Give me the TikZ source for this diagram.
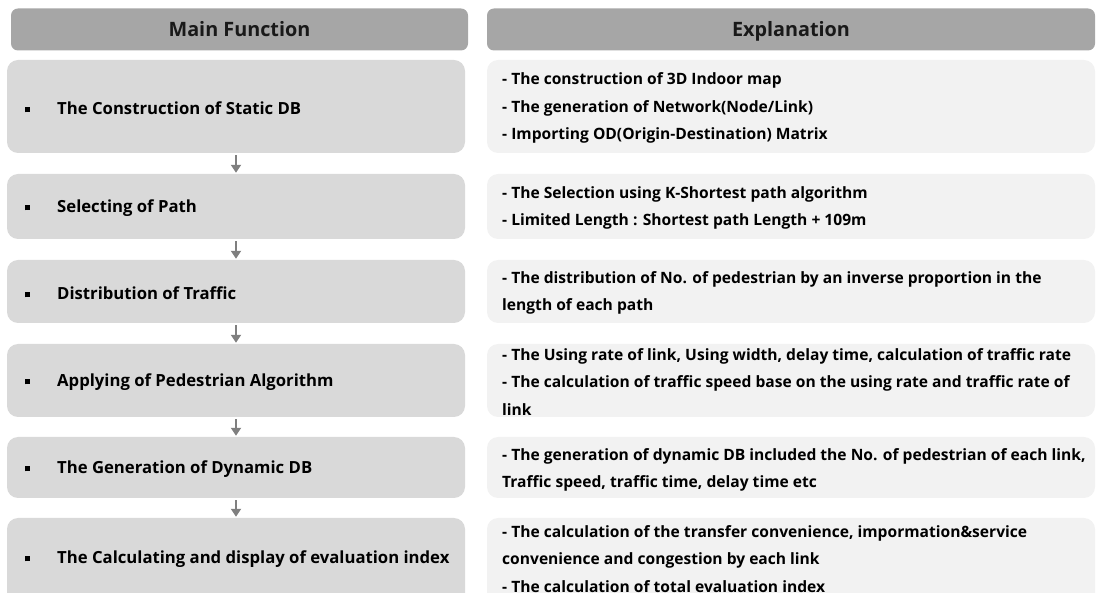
\documentclass[tikz,border=0pt]{standalone}
\usepackage{fontspec}
\setmainfont{Open Sans}
\usetikzlibrary{arrows.meta,calc}
\definecolor{hdr}{HTML}{A6A6A6}
\definecolor{lbox}{HTML}{D9D9D9}
\definecolor{rbox}{HTML}{F2F2F2}
\definecolor{arr}{HTML}{7F7F7F}
\tikzset{
  hdrbox/.style={fill=hdr, rounded corners=7pt, minimum height=42pt, inner sep=0pt,
    text height=14.5pt, text depth=0pt,
    font=\fontsize{19.8}{22}\selectfont\bfseries, text=black!90},
  leftbox/.style={fill=lbox, rounded corners=11pt, minimum width=458pt, inner sep=0pt},
  rightbox/.style={fill=rbox, rounded corners=11pt, minimum width=608pt, inner sep=0pt},
  lefttext/.style={anchor=west, inner sep=0pt, font=\fontsize{16.7}{19}\selectfont\bfseries},
  righttext/.style={anchor=west, inner sep=0pt, align=left, font=\fontsize{15.6}{27.5}\selectfont\bfseries},
  flow/.style={draw=arr, line width=2.8pt, -{Triangle[length=8pt,width=10pt]}, shorten <=2pt, shorten >=1pt}
}
\newcommand{\blt}{\makebox[32pt][l]{\rule[2pt]{5pt}{5pt}}}
\begin{document}
\begin{tikzpicture}[x=1pt,y=-1pt]
\useasboundingbox (0,0) rectangle (1096,593);
\clip (0,0) rectangle (1096,593);
% headers
\node[hdrbox, minimum width=457pt] (h1) at (239.5,29.5) {Main Function};
\node[hdrbox, minimum width=608pt] (h2) at (791,29.5) {Explanation};
% left boxes
\node[leftbox, minimum height=93pt] (l1) at (236,106.5) {};
\node[leftbox, minimum height=65pt] (l2) at (236,206.5) {};
\node[leftbox, minimum height=63pt] (l3) at (236,291.5) {};
\node[leftbox, minimum height=73pt] (l4) at (236,380.5) {};
\node[leftbox, minimum height=61pt] (l5) at (236,467.5) {};
\node[leftbox, minimum height=92pt] (l6) at (236,564) {};
% right boxes
\node[rightbox, minimum height=93pt] (r1) at (791,106.5) {};
\node[rightbox, minimum height=65pt] (r2) at (791,206.5) {};
\node[rightbox, minimum height=63pt] (r3) at (791,291.5) {};
\node[rightbox, minimum height=73pt] (r4) at (791,380.5) {};
\node[rightbox, minimum height=61pt] (r5) at (791,467.5) {};
\node[rightbox, minimum height=92pt] (r6) at (791,564) {};
% left texts
\node[lefttext] (t1) at (25,108) {\blt The Construction of Static DB};
\node[lefttext] (t2) at (25,208) {\blt Selecting of Path};
\node[lefttext] (t3) at (25,293) {\blt Distribution of Traffic};
\node[lefttext] (t4) at (25,382) {\blt Applying of Pedestrian Algorithm};
\node[lefttext] (t5) at (25,469) {\blt The Generation of Dynamic DB};
\node[lefttext] (t6) at (25,559) {\blt The Calculating and display of evaluation index};
% right texts
\node[righttext] (e1) at (502,108) {- The construction of 3D Indoor map\\- The generation of Network(Node/Link)\\- Importing OD(Origin-Destination) Matrix};
\node[righttext] (e2) at (502,208) {- The Selection using K-Shortest path algorithm\\- Limited Length : Shortest path Length + 109m};
\node[righttext] (e3) at (502,293) {- The distribution of No. of pedestrian by an inverse proportion in the\\length of each path};
\node[righttext] (e4) at (502,382) {- The Using rate of link, Using width, delay time, calculation of traffic rate\\- The calculation of traffic speed base on the using rate and traffic rate of\\link};
\node[righttext] (e5) at (502,470) {- The generation of dynamic DB included the No. of pedestrian of each link,\\Traffic speed, traffic time, delay time etc};
\node[righttext] (e6) at (502,559) {- The calculation of the transfer convenience, impormation\&service\\convenience and congestion by each link\\- The calculation of total evaluation index};
% arrows
\draw[flow] (l1.south) -- (l2.north);
\draw[flow] (l2.south) -- (l3.north);
\draw[flow] (l3.south) -- (l4.north);
\draw[flow] (l4.south) -- (l5.north);
\draw[flow] (l5.south) -- (l6.north);
\end{tikzpicture}
\end{document}
